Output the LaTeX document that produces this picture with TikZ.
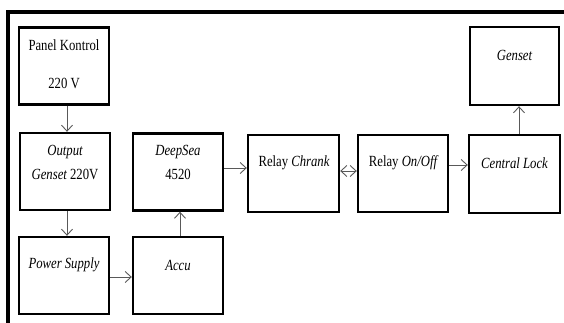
\documentclass[tikz,border=0pt]{standalone}
\usepackage{fontspec}
\setmainfont{Liberation Serif}[FakeStretch=0.82]
\usetikzlibrary{arrows.meta}
\begin{document}
\begin{tikzpicture}[x=1pt,y=-1pt,
  box/.style={draw=black,line width=2.4pt,rectangle,minimum width=90pt,minimum height=77pt,inner sep=0pt},
  txt/.style={inner sep=0pt,font=\fontsize{15.5}{18}\selectfont},
  arr/.style={draw=black!65,line width=0.9pt,-{Straight Barb[length=6pt,width=11pt]}},
  darr/.style={draw=black!65,line width=0.9pt,{Straight Barb[length=6pt,width=11pt]}-{Straight Barb[length=6pt,width=11pt]}}]
\useasboundingbox (0,0) rectangle (564,323);
\draw[line width=3.2pt] (8,325) -- (8,12) -- (566,12);
% boxes
\node[box] (panel) at (64,66) {};
\node[box] (outg) at (65,171.5) {};
\node[box] (deep) at (178,172) {};
\node[box,minimum width=91pt] (chrank) at (293.5,173.5) {};
\node[box] (onoff) at (403,173.5) {};
\node[box,minimum width=91pt,minimum height=78pt] (central) at (514.5,174) {};
\node[box,minimum width=89pt,minimum height=78pt] (genset) at (514.5,66) {};
\node[box] (ps) at (64,275.5) {};
\node[box] (accu) at (178,275.5) {};
% texts
\node[txt] (t1) at (64,45) {Panel Kontrol};
\node[txt] (t2) at (64,83) {220 V};
\node[txt] (t3) at (65,152) {\itshape Output};
\node[txt] (t4) at (65,174) {\itshape Genset\upshape\ 220V};
\node[txt] (t5) at (178,152) {\itshape DeepSea};
\node[txt] (t6) at (178,174) {4520};
\node[txt] (t7) at (294,163) {Relay \itshape Chrank};
\node[txt] (t8) at (403,163) {Relay \itshape On/Off};
\node[txt] (t9) at (514.5,163) {\itshape Central Lock};
\node[txt] (t10) at (514.5,55) {\itshape Genset};
\node[txt] (t11) at (64,265) {\itshape Power Supply};
\node[txt] (t12) at (178,265) {\itshape Accu};
% connectors
\draw[arr] ([xshift=3pt]panel.south) -- ([xshift=2pt]outg.north);
\draw[arr] ([xshift=2pt]outg.south) -- ([xshift=3pt]ps.north);
\draw[arr] ([yshift=-1.5pt]ps.east) -- ([yshift=-1.5pt]accu.west);
\draw[arr] ([xshift=2pt]accu.north) -- ([xshift=2pt]deep.south);
\draw[arr] ([yshift=4pt]deep.east) -- ([yshift=5.5pt]chrank.west);
\draw[darr] ([yshift=2.5pt]chrank.east) -- ([yshift=2.5pt]onoff.west);
\draw[arr] ([yshift=8.5pt]onoff.east) -- ([yshift=9pt]central.west);
\draw[arr] ([xshift=4.5pt]central.north) -- ([xshift=4.5pt]genset.south);
\end{tikzpicture}
\end{document}
